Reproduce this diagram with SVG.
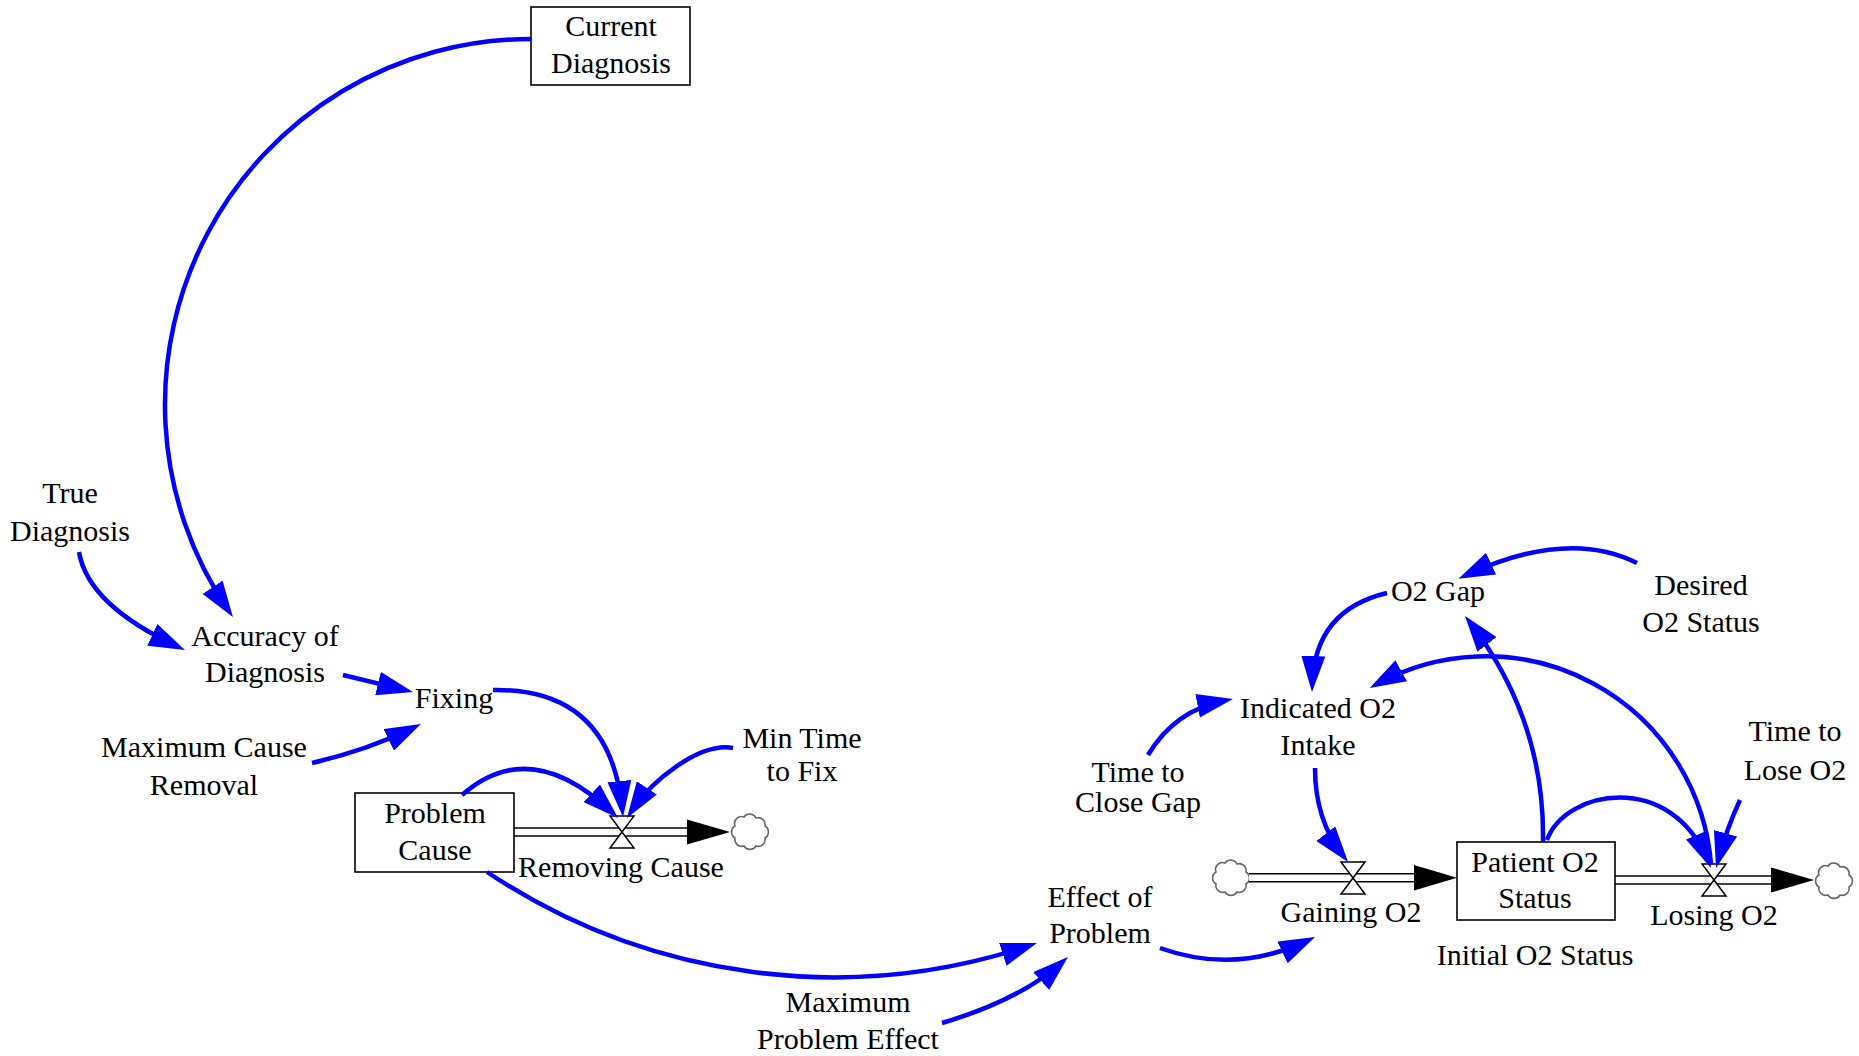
<svg xmlns="http://www.w3.org/2000/svg" width="1859" height="1056" viewBox="0 0 1859 1056">
  <style>
    .lbl { font-family: "Liberation Serif", "Times New Roman", serif; font-size: 30px; text-anchor: middle; fill: #000; }
    .stock { fill: #fff; stroke: #000; stroke-width: 1.6; }
    .pipe-o { fill: none; stroke: #000; stroke-width: 9.5; }
    .pipe-i { fill: none; stroke: #fff; stroke-width: 6.5; }
    .valve { fill: #fff; stroke: #000; stroke-width: 1.5; stroke-linejoin: miter; }
    .flowhead { fill: #000; }
    .cloud { fill: #fff; stroke: #666; stroke-width: 1.6; }
    .link { fill: none; stroke: #0000ff; stroke-width: 4.5; marker-end: url(#ah); }
  </style>
  <defs>
    <marker id="ah" markerUnits="userSpaceOnUse" markerWidth="36" markerHeight="24" viewBox="0 0 36 24" refX="28" refY="12" orient="auto">
      <path d="M0,0 L36,12 L0,24 z" fill="#0000ff"/>
    </marker>
    <path id="cloud" class="cloud" d="M-15,-6 a7,7 0 0 1 9,-9 a7,7 0 0 1 12,1 a7,7 0 0 1 9,8 a7,7 0 0 1 0,12 a7,7 0 0 1 -9,8 a7,7 0 0 1 -12,0 a7,7 0 0 1 -9,-8 a7,7 0 0 1 0,-12 z"/>
  </defs>

  <rect width="1859" height="1056" fill="#fff"/>

  <!-- flows: pipes, flow arrowheads, clouds -->
  <g id="flow-removing-cause">
    <path class="pipe-o" d="M514,832 H688"/>
    <path class="pipe-i" d="M514,832 H688"/>
    <polygon class="flowhead" points="687,819.5 730,832 687,844.5"/>
  </g>
  <g id="cloud-sink-1"><use href="#cloud" x="750" y="832"/></g>

  <g id="cloud-source-2"><use href="#cloud" x="1231" y="878"/></g>
  <g id="flow-gaining-o2">
    <path class="pipe-o" d="M1249,877.7 H1415"/>
    <path class="pipe-i" d="M1249,877.7 H1415"/>
    <polygon class="flowhead" points="1414,865 1457,877.7 1414,890.5"/>
  </g>

  <g id="flow-losing-o2">
    <path class="pipe-o" d="M1615,880 H1772"/>
    <path class="pipe-i" d="M1615,880 H1772"/>
    <polygon class="flowhead" points="1771,867.5 1814,880 1771,892.5"/>
  </g>
  <g id="cloud-sink-3"><use href="#cloud" x="1834" y="881"/></g>

  <!-- valves -->
  <g id="valve-removing-cause">
    <polygon class="valve" points="610,816 634,816 622,832"/>
    <polygon class="valve" points="622,832 610,848 634,848"/>
    <text class="lbl" x="621" y="877">Removing Cause</text>
  </g>
  <g id="valve-gaining-o2">
    <polygon class="valve" points="1341,862 1365,862 1353,878"/>
    <polygon class="valve" points="1353,878 1341,894 1365,894"/>
    <text class="lbl" x="1351" y="922">Gaining O2</text>
  </g>
  <g id="valve-losing-o2">
    <polygon class="valve" points="1702,864 1726,864 1714,880"/>
    <polygon class="valve" points="1714,880 1702,896 1726,896"/>
    <text class="lbl" x="1714" y="925">Losing O2</text>
  </g>

  <!-- stocks -->
  <g id="stock-current-diagnosis">
    <rect class="stock" x="531" y="7" width="159" height="78"/>
    <text class="lbl" x="611" y="36">Current</text>
    <text class="lbl" x="611" y="73">Diagnosis</text>
  </g>
  <g id="stock-problem-cause">
    <rect class="stock" x="355" y="793" width="159" height="79"/>
    <text class="lbl" x="435" y="823">Problem</text>
    <text class="lbl" x="435" y="860">Cause</text>
  </g>
  <g id="stock-patient-o2-status">
    <rect class="stock" x="1457" y="842" width="158" height="78"/>
    <text class="lbl" x="1535" y="872">Patient O2</text>
    <text class="lbl" x="1535" y="908">Status</text>
  </g>

  <!-- auxiliaries and constants -->
  <g id="aux-true-diagnosis">
    <text class="lbl" x="70" y="503">True</text>
    <text class="lbl" x="70" y="541">Diagnosis</text>
  </g>
  <g id="aux-accuracy-of-diagnosis">
    <text class="lbl" x="265" y="646">Accuracy of</text>
    <text class="lbl" x="265" y="682">Diagnosis</text>
  </g>
  <g id="aux-fixing">
    <text class="lbl" x="454" y="708">Fixing</text>
  </g>
  <g id="aux-maximum-cause-removal">
    <text class="lbl" x="204" y="757">Maximum Cause</text>
    <text class="lbl" x="204" y="795">Removal</text>
  </g>
  <g id="aux-min-time-to-fix">
    <text class="lbl" x="802" y="748">Min Time</text>
    <text class="lbl" x="802" y="781">to Fix</text>
  </g>
  <g id="aux-effect-of-problem">
    <text class="lbl" x="1100" y="907">Effect of</text>
    <text class="lbl" x="1100" y="943">Problem</text>
  </g>
  <g id="aux-maximum-problem-effect">
    <text class="lbl" x="848" y="1012">Maximum</text>
    <text class="lbl" x="848" y="1049">Problem Effect</text>
  </g>
  <g id="aux-time-to-close-gap">
    <text class="lbl" x="1138" y="782">Time to</text>
    <text class="lbl" x="1138" y="812">Close Gap</text>
  </g>
  <g id="aux-indicated-o2-intake">
    <text class="lbl" x="1318" y="718">Indicated O2</text>
    <text class="lbl" x="1318" y="755">Intake</text>
  </g>
  <g id="aux-o2-gap">
    <text class="lbl" x="1438" y="601">O2 Gap</text>
  </g>
  <g id="aux-desired-o2-status">
    <text class="lbl" x="1701" y="595">Desired</text>
    <text class="lbl" x="1701" y="632">O2 Status</text>
  </g>
  <g id="aux-time-to-lose-o2">
    <text class="lbl" x="1795" y="741">Time to</text>
    <text class="lbl" x="1795" y="780">Lose O2</text>
  </g>
  <g id="aux-initial-o2-status">
    <text class="lbl" x="1535" y="965">Initial O2 Status</text>
  </g>

  <!-- causal links -->
  <g id="links">
    <path class="link" d="M531,39 A365.6,365.6 0 0 0 228.4,610.4"/>
    <path class="link" d="M79,552 Q88,605 177.7,646.6"/>
    <path class="link" d="M343,675 L405.2,690.1"/>
    <path class="link" d="M312,763 Q368,750 413.8,727.5"/>
    <path class="link" d="M493,690 Q610,688 622.2,809"/>
    <path class="link" d="M462,795 Q530,735 612.2,812.5"/>
    <path class="link" d="M733,748 C700,742 652,780 631.4,811.3"/>
    <path class="link" d="M487,872 A622.8,622.8 0 0 0 1029.4,945.6"/>
    <path class="link" d="M942,1023 Q1020,1000 1062,962.3"/>
    <path class="link" d="M1160,948 Q1235,975 1307.8,940.4"/>
    <path class="link" d="M1148,755 Q1175,710 1225.1,700.5"/>
    <path class="link" d="M1387,593 Q1315,610 1312.3,684"/>
    <path class="link" d="M1315,768 Q1315,820 1343.1,855.7"/>
    <path class="link" d="M1637,563 Q1568,528 1465.7,575.4"/>
    <path class="link" d="M1543,842 Q1545,720 1469.9,622.3"/>
    <path class="link" d="M1547,840 C1565,790 1670,770 1707.9,860.6"/>
    <path class="link" d="M1711,864 A226.1,226.1 0 0 0 1376.7,684.2"/>
    <path class="link" d="M1740,800 Q1727,828 1718.1,860.3"/>
  </g>
</svg>
